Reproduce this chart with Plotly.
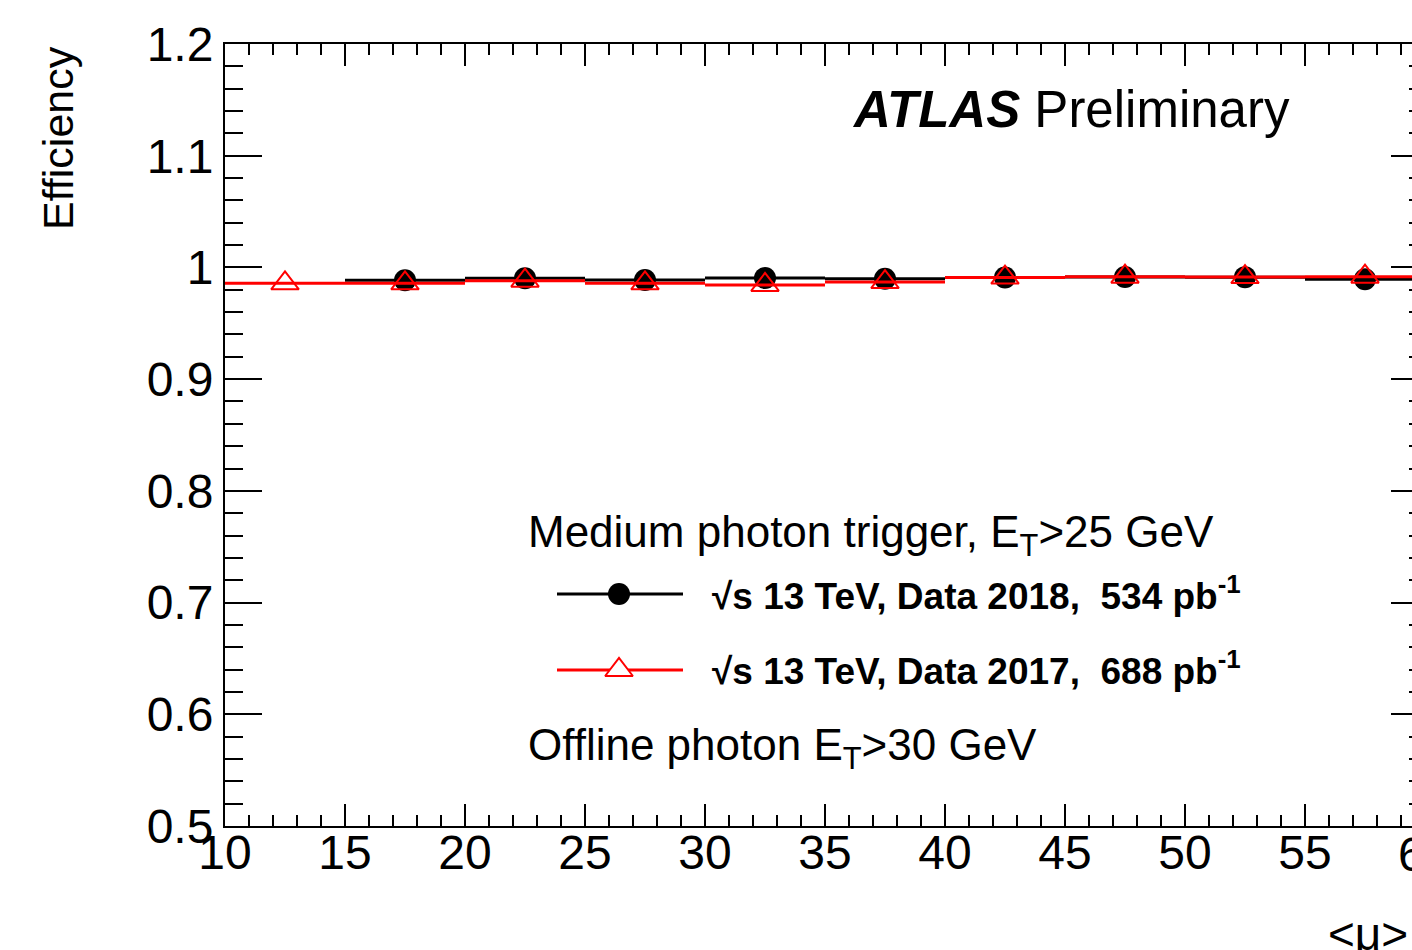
import plotly.graph_objects as go

# ---------------- data ----------------
bin_half_width = 2.5
mu_2018 = [17.5, 22.5, 27.5, 32.5, 37.5, 42.5, 47.5, 52.5, 57.5]
eff_2018 = [0.9885, 0.9903, 0.9887, 0.9905, 0.9899, 0.9910, 0.9915, 0.9913, 0.9894]
mu_2017 = [12.5, 17.5, 22.5, 27.5, 32.5, 37.5, 42.5, 47.5, 52.5, 57.5]
eff_2017 = [0.9858, 0.9858, 0.9881, 0.9858, 0.9843, 0.9869, 0.9909, 0.9917, 0.9914, 0.9917]

x_ticks = [10, 15, 20, 25, 30, 35, 40, 45, 50, 55, 60]
x_tick_labels = ["10", "15", "20", "25", "30", "35", "40", "45", "50", "55", "60"]
y_ticks = [0.5, 0.6, 0.7, 0.8, 0.9, 1.0, 1.1, 1.2]
y_tick_labels = ["0.5", "0.6", "0.7", "0.8", "0.9", "1", "1.1", "1.2"]

label_2018 = "<b>\u221As 13 TeV, Data 2018,  534 pb<sup>-1</sup></b>"
label_2017 = "<b>\u221As 13 TeV, Data 2017,  688 pb<sup>-1</sup></b>"

FONT = "Liberation Sans, Arial, Helvetica, sans-serif"
W, H = 1412, 950
ML, MR, MT, MB = 225, 0, 44, 124
PW = W - ML - MR
PH = H - MT - MB
PX_PER_UNIT = 24.0
X_MIN = 10
X_MAX = X_MIN + PW / PX_PER_UNIT  # axis end (60) lies just off canvas


def px_x(px):
    return (px - ML) / PW


def px_y(py):
    return (H - MB - py) / PH


fig = go.Figure()

# 2018: black filled circles with bin-width horizontal bars
fig.add_trace(go.Scatter(
    x=mu_2018, y=eff_2018, mode="markers",
    marker=dict(symbol="circle", size=22, color="black"),
    error_x=dict(type="data", array=[bin_half_width] * len(mu_2018),
                 color="black", thickness=3, width=0),
    showlegend=False, xaxis="x", yaxis="y"))

# 2017: red horizontal bars
fig.add_trace(go.Scatter(
    x=mu_2017, y=eff_2017, mode="markers",
    marker=dict(symbol="circle", size=1, color="rgba(0,0,0,0)"),
    error_x=dict(type="data", array=[bin_half_width] * len(mu_2017),
                 color="red", thickness=3, width=0),
    showlegend=False, xaxis="x", yaxis="y"))

# 2017: open red triangles
fig.add_trace(go.Scatter(
    x=mu_2017, y=eff_2017, mode="markers",
    marker=dict(symbol="triangle-up-open", size=24, color="red",
                line=dict(color="red", width=2)),
    showlegend=False, xaxis="x", yaxis="y"))

# dummy trace for right-side tick axis
fig.add_trace(go.Scatter(x=[None], y=[None], mode="markers",
                         showlegend=False, xaxis="x", yaxis="y2",
                         hoverinfo="skip"))

# legend sample markers (on a hidden paper-like axis pair)
leg_x = px_x(619)
leg_y_2018 = px_y(594)
leg_y_2017 = px_y(670)
fig.add_trace(go.Scatter(x=[leg_x], y=[leg_y_2018], mode="markers",
                         marker=dict(symbol="circle", size=22, color="black"),
                         showlegend=False, xaxis="x3", yaxis="y3"))
fig.add_trace(go.Scatter(x=[leg_x], y=[leg_y_2017], mode="markers",
                         marker=dict(symbol="triangle-up", size=24, color="white",
                                     line=dict(color="red", width=2)),
                         showlegend=False, xaxis="x3", yaxis="y3"))

shapes = [
    dict(type="line", xref="paper", yref="paper", x0=px_x(557), x1=px_x(683),
         y0=leg_y_2018, y1=leg_y_2018, line=dict(color="black", width=3), layer="below"),
    dict(type="line", xref="paper", yref="paper", x0=px_x(557), x1=px_x(683),
         y0=leg_y_2017, y1=leg_y_2017, line=dict(color="red", width=3), layer="below"),
]

# last x tick label ("60") sits at the axis end, which is just past the canvas edge
last_tick_paper_x = (x_ticks[-1] - X_MIN) * PX_PER_UNIT / PW

annotations = [
    dict(text="<b><i>ATLAS</i></b> Preliminary", xref="paper", yref="paper",
         x=px_x(850), y=px_y(109), xanchor="left", yanchor="middle",
         showarrow=False, font=dict(family=FONT, size=51, color="black")),
    dict(text="Medium photon trigger, E<sub>T</sub>>25 GeV", xref="paper", yref="paper",
         x=px_x(526), y=px_y(535), xanchor="left", yanchor="middle",
         showarrow=False, font=dict(family=FONT, size=44, color="black")),
    dict(text=label_2018, xref="paper", yref="paper",
         x=px_x(710), y=px_y(593), xanchor="left", yanchor="middle",
         showarrow=False, font=dict(family=FONT, size=37, color="black")),
    dict(text=label_2017, xref="paper", yref="paper",
         x=px_x(710), y=px_y(668), xanchor="left", yanchor="middle",
         showarrow=False, font=dict(family=FONT, size=37, color="black")),
    dict(text="Offline photon E<sub>T</sub>>30 GeV", xref="paper", yref="paper",
         x=px_x(526), y=px_y(748), xanchor="left", yanchor="middle",
         showarrow=False, font=dict(family=FONT, size=44, color="black")),
    dict(text="Efficiency", xref="paper", yref="paper",
         x=px_x(58), y=1.0, xanchor="center", yanchor="top", textangle=-90,
         showarrow=False, font=dict(family=FONT, size=43, color="black")),
    dict(text="<\u03bc>", xref="paper", yref="paper",
         x=px_x(1326), y=px_y(934), xanchor="left", yanchor="middle",
         showarrow=False, font=dict(family=FONT, size=46, color="black")),
    dict(text=x_tick_labels[-1], xref="paper", yref="paper",
         x=last_tick_paper_x, y=px_y(854), xanchor="center", yanchor="middle",
         showarrow=False, font=dict(family=FONT, size=48, color="black")),
]

fig.update_layout(
    width=W, height=H,
    margin=dict(l=ML, r=MR, t=MT, b=MB, pad=0),
    paper_bgcolor="white", plot_bgcolor="white",
    font=dict(family=FONT, size=42, color="black"),
    showlegend=False,
    xaxis=dict(range=[X_MIN, X_MAX], domain=[0, 1], showgrid=False, zeroline=False,
               showline=True, linecolor="black", linewidth=2, mirror="ticks",
               ticks="inside", tickvals=x_ticks, ticktext=x_tick_labels,
               ticklen=22, tickwidth=2, tickcolor="black",
               ticklabelstandoff=-17,
               tickfont=dict(family=FONT, size=48, color="black"),
               minor=dict(dtick=1, ticklen=11, tickwidth=2, tickcolor="black",
                          ticks="inside", showgrid=False)),
    yaxis=dict(range=[0.5, 1.2], domain=[0, 1], showgrid=False, zeroline=False,
               showline=True, linecolor="black", linewidth=2, mirror=False,
               ticks="inside", tickvals=y_ticks, ticktext=y_tick_labels,
               ticklen=37, tickwidth=2, tickcolor="black",
               ticklabelstandoff=0,
               tickfont=dict(family=FONT, size=48, color="black"),
               minor=dict(dtick=0.02, ticklen=18, tickwidth=2, tickcolor="black",
                          ticks="inside", showgrid=False)),
    yaxis2=dict(range=[0.5, 1.2], overlaying="y", side="right", anchor="x",
                showgrid=False, zeroline=False, showline=False,
                ticks="inside", tickvals=y_ticks, showticklabels=False,
                ticklen=21, tickwidth=2, tickcolor="black",
                minor=dict(dtick=0.02, ticklen=3, tickwidth=2, tickcolor="black",
                           ticks="inside", showgrid=False)),
    xaxis3=dict(range=[0, 1], domain=[0, 1], overlaying="x", visible=False,
                anchor="y3"),
    yaxis3=dict(range=[0, 1], domain=[0, 1], overlaying="y", visible=False,
                anchor="x3"),
    shapes=shapes,
    annotations=annotations,
)

fig.write_html("out.html")
